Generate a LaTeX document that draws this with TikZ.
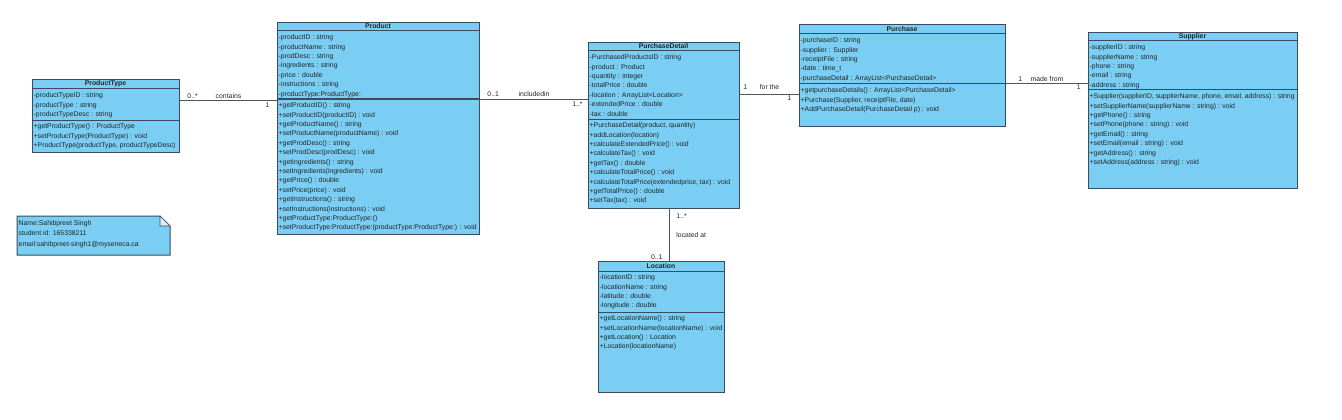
\documentclass[tikz,border=0pt]{standalone}
\usepackage{fontspec}
\setmainfont{Liberation Sans}
\usetikzlibrary{calc}
\definecolor{ClassClr}{RGB}{122,206,244}
\definecolor{BorderClr}{RGB}{58,76,92}
\definecolor{TextClr}{RGB}{35,35,35}
\definecolor{LinkClr}{RGB}{85,85,85}
\definecolor{FoldClr}{RGB}{225,235,240}

\begin{document}
\begin{tikzpicture}[x=1pt,y=-1pt,
  cls/.style={draw=BorderClr,fill=ClassClr,line width=1pt,anchor=north west,inner sep=0pt},
  clsline/.style={draw=BorderClr,line width=1pt},
  ttl/.style={font=\fontsize{6.85}{8}\selectfont\bfseries,text=TextClr,inner sep=0pt},
  mem/.style={font=\fontsize{6.85}{9.4}\selectfont,text=TextClr,align=left,anchor=north west,inner sep=0pt},
  link/.style={draw=LinkClr,line width=0.9pt},
  lbl/.style={font=\fontsize{6.85}{8}\selectfont,text=TextClr,inner sep=1pt}]
\useasboundingbox (0,0) rectangle (1342,420);

% ProductType
\node[cls,minimum width=147pt,minimum height=73pt] (ptype) at (32,79) {};
\draw[clsline] (32,89) -- (179,89) (32,120) -- (179,120);
\node[ttl] (ptypettl) at (105.5,84) {ProductType};
\node[mem] (ptypeattr) at (33.5,92.5) {-productTypeID : string\\-productType : string\\-productTypeDesc : string};
\node[mem] (ptypeop) at (33.5,123.5) {+getProductType() : ProductType\\+setProductType(ProductType) : void\\+ProductType(productType, productTypeDesc)};

% Product
\node[cls,minimum width=202pt,minimum height=212pt] (product) at (277,22) {};
\draw[clsline] (277,31) -- (479,31) (277,99) -- (479,99);
\node[ttl] (productttl) at (378,26.5) {Product};
\node[mem] (productattr) at (278.5,34.5) {-productID : string\\-productName : string\\-prodDesc : string\\-ingredients : string\\-price : double\\-instructions : string\\-productType:ProductType:};
\node[mem] (productop) at (278.5,102.5) {+getProductID() : string\\+setProductID(productID) : void\\+getProductName() : string\\+setProductName(productName) : void\\+getProdDesc() : string\\+setProdDesc(prodDesc) : void\\+getIngredients() : string\\+setIngredients(ingredients) : void\\+getPrice() : double\\+setPrice(price) : void\\+getInstructions() : string\\+setInstructions(instructions) : void\\+getProductType:ProductType:()\\+setProductType:ProductType:(productType:ProductType:) : void};

% PurchaseDetail
\node[cls,minimum width=151pt,minimum height=166pt] (pdetail) at (588,42) {};
\draw[clsline] (588,51) -- (739,51) (588,119) -- (739,119);
\node[ttl] (pdetailttl) at (663.5,46.5) {PurchaseDetail};
\node[mem] (pdetailattr) at (589.5,54.5) {-PurchasedProductsID : string\\-product : Product\\-quantity : integer\\-totalPrice : double\\-location : ArrayList<Location>\\-extendedPrice : double\\-tax : double};
\node[mem] (pdetailop) at (589.5,122.5) {+PurchaseDetail(product, quantity)\\+addLocation(location)\\+calculateExtendedPrice() : void\\+calculateTax() : void\\+getTax() : double\\+calculateTotalPrice() : void\\+calculateTotalPrice(extendedprice, tax) : void\\+getTotalPrice() : double\\+setTax(tax) : void};

% Purchase
\node[cls,minimum width=206pt,minimum height=102pt] (purchase) at (799,24) {};
\draw[clsline] (799,34) -- (1005,34) (799,84) -- (1005,84);
\node[ttl] (purchasettl) at (902,29) {Purchase};
\node[mem] (purchaseattr) at (800.5,37.5) {-purchaseID : string\\-supplier : Supplier\\-receiptFile : string\\-date : time\_t\\-purchaseDetail : ArrayList<PurchaseDetail>};
\node[mem] (purchaseop) at (800.5,87.5) {+getpurchaseDetails() : ArrayList<PurchaseDetail>\\+Purchase(Supplier, receiptFile, date)\\+AddPurchaseDetail(PurchaseDetail p) : void};

% Supplier
\node[cls,minimum width=209pt,minimum height=156pt] (supplier) at (1088,32) {};
\draw[clsline] (1088,41) -- (1297,41) (1088,90) -- (1297,90);
\node[ttl] (supplierttl) at (1192.5,36.5) {Supplier};
\node[mem] (supplierattr) at (1089.5,44.5) {-supplierID : string\\-supplierName : string\\-phone : string\\-email : string\\-address : string};
\node[mem] (supplierop) at (1089.5,93.5) {+Supplier(supplierID, supplierName, phone, email, address) : string\\+setSupplierName(supplierName : string) : void\\+getPhone() : string\\+setPhone(phone : string) : void\\+getEmail() : string\\+setEmail(email : string) : void\\+getAddress() : string\\+setAddress(address : string) : void};

% Location
\node[cls,minimum width=126pt,minimum height=131pt] (location) at (598,261) {};
\draw[clsline] (598,271) -- (724,271) (598,312) -- (724,312);
\node[ttl] (locationttl) at (661,266) {Location};
\node[mem] (locationattr) at (599.5,274.5) {-locationID : string\\-locationName : string\\-latitude : double\\-longitude : double};
\node[mem] (locationop) at (599.5,315.5) {+getLocationName() : string\\+setLocationName(locationName) : void\\+getLocation() : Location\\+Location(locationName)};

% note
\draw[cls] (17,216) -- (160,216) -- (170,226) -- (170,255) -- (17,255) -- cycle;
\draw[clsline,fill=FoldClr,line width=0.6pt] (160,216) -- (170,226) -- (160,226) -- cycle;
\node[mem,font=\fontsize{6.85}{10.5}\selectfont] (note) at (18.5,220) {Name:Sahibpreet Singh\\student id: 165338211\\email:sahibpreet-singh1@myseneca.ca};

% associations
\coordinate (c1) at ([yshift=-21pt]ptype.north east);
\coordinate (c2) at ([yshift=-77pt]product.north east);
\coordinate (c3) at ([yshift=-70pt]purchase.north west);
\coordinate (c4) at ([yshift=-51pt]supplier.north west);
\coordinate (c5) at ([xshift=81pt]pdetail.south west);

\draw[link] (c1) -- node[lbl,above] (contains) {contains}
  node[lbl,pos=0,above right,xshift=6pt] (m1a) {0..*}
  node[lbl,pos=1,below left,xshift=-6pt,yshift=-1.5pt] (m1b) {1} (c1 -| product.west);
\draw[link] (c2) -- node[lbl,above,yshift=1pt] (includedin) {includedin}
  node[lbl,pos=0,above right,xshift=6pt,yshift=1pt] (m2a) {0..1}
  node[lbl,pos=1,below left,xshift=-4pt,yshift=-1.5pt] (m2b) {1..*} (c2 -| pdetail.west);
\draw[link] (c3 -| pdetail.east) -- node[lbl,above,yshift=3pt] (forthe) {for the}
  node[lbl,pos=0,above right,xshift=2pt,yshift=3pt] (m3a) {1}
  node[lbl,pos=1,below left,xshift=-6pt] (m3b) {1} (c3);
\draw[link] (c4 -| purchase.east) -- node[lbl,above] (madefrom) {made from}
  node[lbl,pos=0,above right,xshift=11pt] (m4a) {1}
  node[lbl,pos=1,below left,xshift=-6pt] (m4b) {1} (c4);
\draw[link] (c5) -- node[lbl,right,xshift=6pt] (locatedat) {located at}
  node[lbl,pos=0,below right,xshift=6pt,yshift=-3pt] (m5a) {1..*}
  node[lbl,pos=1,above left,xshift=-5pt] (m5b) {0..1} (c5 |- location.north);
\end{tikzpicture}
\end{document}
